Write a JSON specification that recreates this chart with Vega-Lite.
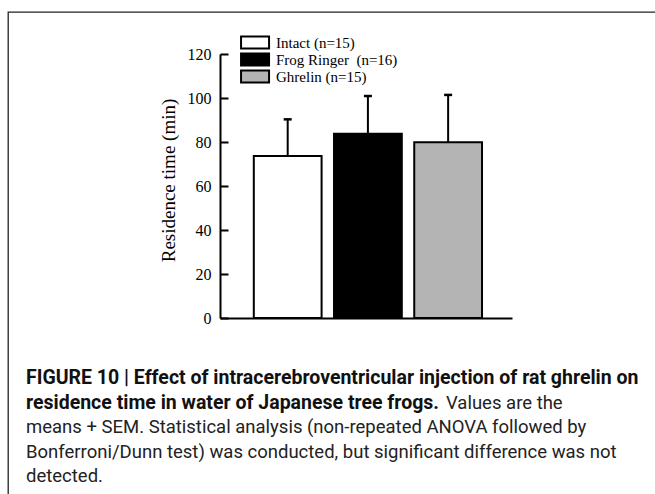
{
  "$schema": "https://vega.github.io/schema/vega-lite/v6.json",
  "autosize": "none",
  "width": 648,
  "height": 483,
  "padding": {"left": 8, "top": 12, "right": -1, "bottom": -1},
  "background": "white",
  "config": {"view": {"stroke": "#222", "strokeWidth": 1.3}},
  "datasets": {
    "bars": [
      {"group": "Intact (n=15)", "mean": 73.6, "upper": 90.3},
      {"group": "Frog Ringer\u00a0 (n=16)", "mean": 83.8, "upper": 100.9},
      {"group": "Ghrelin (n=15)", "mean": 79.9, "upper": 101.4}
    ],
    "caption": [
      {"line": 1, "part": "bold", "text": "FIGURE 10 | Effect of intracerebroventricular injection of rat ghrelin on"},
      {"line": 2, "part": "bold", "text": "residence time in water of Japanese tree frogs."},
      {"line": 2, "part": "cont", "text": "Values are the"},
      {"line": 3, "part": "regular", "text": "means + SEM. Statistical analysis (non-repeated ANOVA followed by"},
      {"line": 4, "part": "regular", "text": "Bonferroni/Dunn test) was conducted, but significant difference was not"},
      {"line": 5, "part": "regular", "text": "detected."}
    ]
  },
  "layer": [
    {
      "data": {"name": "bars"},
      "encoding": {
        "x": {
          "field": "group", "type": "nominal", "sort": null,
          "scale": {"range": [212, 504], "paddingInner": 0.155, "paddingOuter": 0.3975, "align": 0.53},
          "axis": {"orient": "bottom", "offset": -177, "labels": false, "ticks": false, "title": null, "domainColor": "black", "domainWidth": 2, "grid": false}
        }
      },
      "layer": [
        {
          "mark": {"type": "bar", "stroke": "black", "strokeWidth": 2, "opacity": 1},
          "encoding": {
            "y": {
              "field": "mean", "type": "quantitative",
              "scale": {"domain": [0, 120], "range": [306, 42], "nice": false},
              "axis": {
                "values": [0, 20, 40, 60, 80, 100, 120],
                "offset": -212,
                "title": "Residence time (min)",
                "titleFont": "Liberation Serif", "titleFontSize": 19, "titleFontWeight": "normal", "titleColor": "black",
                "titleX": -46, "titleY": 168, "titleBaseline": "alphabetic", "titleAngle": 270, "titleAlign": "center",
                "labelFont": "Liberation Serif", "labelFontSize": 16, "labelColor": "black", "labelPadding": 17,
                "tickSize": -8, "tickWidth": 2, "tickColor": "black",
                "domainColor": "black", "domainWidth": 2, "grid": false
              }
            },
            "fill": {
              "field": "group", "type": "nominal", "sort": null,
              "scale": {"range": ["white", "black", "#b4b4b4"]},
              "legend": {
                "orient": "none", "legendX": 231, "legendY": 23, "title": null, "direction": "vertical",
                "symbolType": "M-0.85,-0.86L3.15,-0.86L3.15,0.86L-0.85,0.86Z", "symbolSize": 196,
                "symbolStrokeColor": "black", "symbolStrokeWidth": 2, "symbolOpacity": 1,
                "labelFont": "Liberation Serif", "labelFontSize": 15, "labelColor": "black", "labelOffset": 21,
                "clipHeight": 15, "rowPadding": 1, "padding": 0
              }
            }
          }
        },
        {
          "mark": {"type": "rule", "strokeWidth": 2, "color": "black"},
          "encoding": {"y": {"field": "mean", "type": "quantitative"}, "y2": {"field": "upper"}}
        },
        {
          "mark": {"type": "tick", "orient": "horizontal", "size": 8, "thickness": 2.5, "color": "black", "opacity": 1},
          "encoding": {"y": {"field": "upper", "type": "quantitative"}}
        }
      ]
    },
    {
      "data": {"name": "caption"},
      "encoding": {
        "x": {"datum": 0, "type": "quantitative", "scale": {"domain": [0, 1], "range": [18, 648]}, "axis": null},
        "y": {"field": "line", "type": "quantitative", "scale": {"domain": [1, 5], "range": [372, 470]}, "axis": null},
        "text": {"field": "text"}
      },
      "layer": [
        {
          "transform": [{"filter": "datum.part === 'bold'"}],
          "mark": {"type": "text", "align": "left", "baseline": "alphabetic", "font": "Roboto", "fontSize": 19.5, "fontWeight": "bold", "color": "#111"}
        },
        {
          "transform": [{"filter": "datum.part === 'cont'"}],
          "mark": {"type": "text", "align": "left", "baseline": "alphabetic", "dx": 420, "font": "Roboto", "fontSize": 18.5, "color": "#222"}
        },
        {
          "transform": [{"filter": "datum.part === 'regular'"}],
          "mark": {"type": "text", "align": "left", "baseline": "alphabetic", "font": "Roboto", "fontSize": 18.5, "color": "#222"}
        }
      ]
    }
  ],
  "resolve": {"scale": {"x": "independent", "y": "independent"}}
}
